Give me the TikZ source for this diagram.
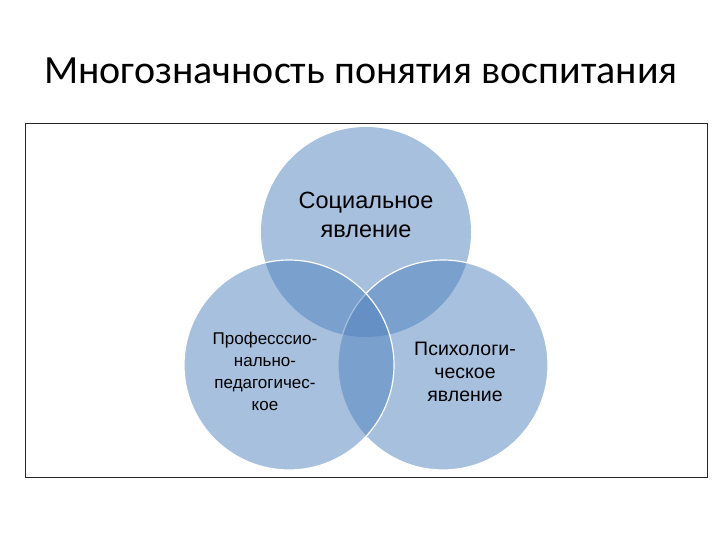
\documentclass[tikz,border=0pt]{standalone}
\usepackage{fontspec}
\setmainfont{Liberation Sans}
\newfontfamily\titlefont{Carlito}
\definecolor{vennblue}{RGB}{79,129,189}

\begin{document}
\begin{tikzpicture}[x=1pt, y=-1pt]
  \useasboundingbox (0,0) rectangle (720,540);

  \node (title) at (361,71) {\titlefont\fontsize{40}{44}\selectfont Многозначность понятия воспитания};
  \draw [black!85, semithick] (25,123) rectangle (707,477);

  \fill [vennblue, fill opacity=0.5] (366,232) circle (105);
  \filldraw [vennblue, fill opacity=0.5, draw=white, very thick] (443,365) circle (105);
  \filldraw [vennblue, fill opacity=0.5, draw=white, very thick] (289,365) circle (105);

  \node [align=center, font=\fontsize{23.5}{29}\selectfont] (social) at (366,215) {Социальное\\явление};
  \node [align=center, font=\fontsize{17}{22}\selectfont] (prof) at (265,371) {Професссио-\\нально-\\педагогичес-\\кое};
  \node [align=center, font=\fontsize{19.5}{23}\selectfont] (psych) at (465,372) {Психологи-\\ческое\\явление};
\end{tikzpicture}
\end{document}
